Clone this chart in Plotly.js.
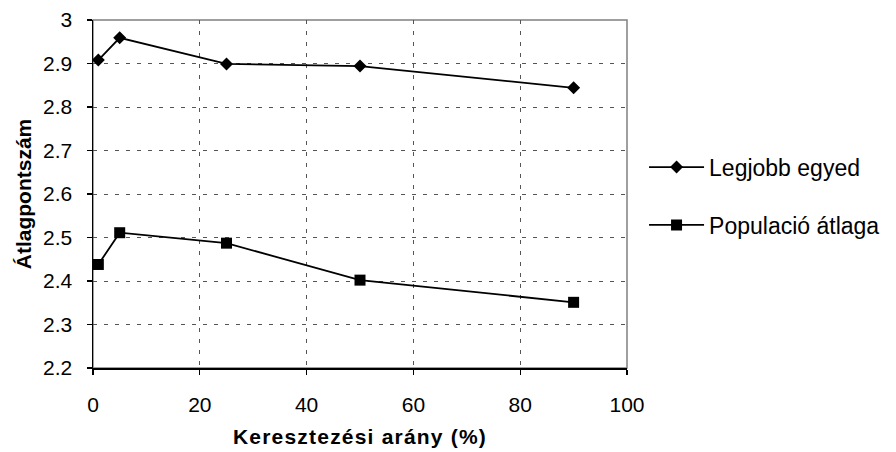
<!DOCTYPE html>
<html>
<head>
<meta charset="utf-8">
<script src="https://cdn.plot.ly/plotly-3.0.1.min.js"></script>
<style>
  html, body { margin: 0; padding: 0; background: #fff; }
  #chart { width: 896px; height: 452px; }
  #chart .xtitle { letter-spacing: 1.2px; }
</style>
</head>
<body>
<div id="chart"></div>
<script>
// Crossover rate (%) on the x axis
var crossoverRate = [1, 5, 25, 50, 90];
// Average score of the best individual
var bestIndividual = [2.908, 2.959, 2.899, 2.894, 2.844];
// Average score of the whole population
var populationMean = [2.438, 2.511, 2.487, 2.402, 2.351];

var seriesNames = ['Legjobb egyed', 'Populació átlaga'];
var xTitle = 'Keresztezési arány (%)';
var yTitle = 'Átlagpontszám';

var fontFamily = '"Liberation Sans", Arial, sans-serif';

var traces = [
  {
    x: crossoverRate,
    y: bestIndividual,
    name: seriesNames[0],
    legendgroup: 'a',
    type: 'scatter',
    mode: 'lines+markers',
    line: { color: '#000', width: 1.8 },
    marker: { symbol: 'diamond', size: 10, color: '#000', line: { width: 0 } },
    cliponaxis: false
  },
  {
    x: crossoverRate,
    y: populationMean,
    name: seriesNames[1],
    legendgroup: 'b',
    type: 'scatter',
    mode: 'lines+markers',
    line: { color: '#000', width: 1.8 },
    marker: { symbol: 'square', size: 11, color: '#000', line: { width: 0 } },
    cliponaxis: false
  }
];

var layout = {
  width: 896,
  height: 452,
  margin: { l: 93, r: 268, t: 20, b: 84 },
  paper_bgcolor: '#fff',
  plot_bgcolor: '#fff',
  font: { family: fontFamily, color: '#000', size: 21 },
  showlegend: true,
  legend: {
    x: 1.03, xanchor: 'left', xref: 'paper',
    y: 0.494, yanchor: 'middle',
    font: { family: fontFamily, size: 23, color: '#000' },
    bgcolor: 'rgba(0,0,0,0)',
    tracegroupgap: 25,
    itemwidth: 55
  },
  xaxis: {
    range: [0, 100],
    dtick: 20,
    tick0: 0,
    showgrid: true,
    gridcolor: '#555',
    gridwidth: 1,
    griddash: '4px,7px',
    zeroline: false,
    showline: true,
    linecolor: '#000',
    linewidth: 1.5,
    ticks: 'outside',
    ticklen: 5,
    tickwidth: 1.2,
    tickcolor: '#000',
    ticklabelstandoff: 12,
    tickfont: { family: fontFamily, size: 21, color: '#000' },
    title: {
      text: xTitle,
      font: { family: fontFamily, size: 21, color: '#000', weight: 'bold' },
      standoff: 14
    }
  },
  yaxis: {
    range: [2.2, 3],
    dtick: 0.1,
    tick0: 2.2,
    showgrid: true,
    gridcolor: '#555',
    gridwidth: 1,
    griddash: '4px,7px',
    zeroline: false,
    showline: true,
    linecolor: '#000',
    linewidth: 1.5,
    ticks: 'outside',
    ticklen: 5,
    tickwidth: 1.2,
    tickcolor: '#000',
    ticklabelstandoff: 10,
    tickfont: { family: fontFamily, size: 21, color: '#000' },
    title: {
      text: yTitle,
      font: { family: fontFamily, size: 21, color: '#000', weight: 'bold' },
      standoff: 5
    }
  },
  shapes: [
    {
      type: 'rect', xref: 'paper', yref: 'paper',
      x0: 0, x1: 1, y0: 0, y1: 1,
      line: { color: '#808080', width: 1.5 },
      layer: 'below'
    }
  ]
};

Plotly.newPlot('chart', traces, layout, { displayModeBar: false, staticPlot: true });
</script>
</body>
</html>
